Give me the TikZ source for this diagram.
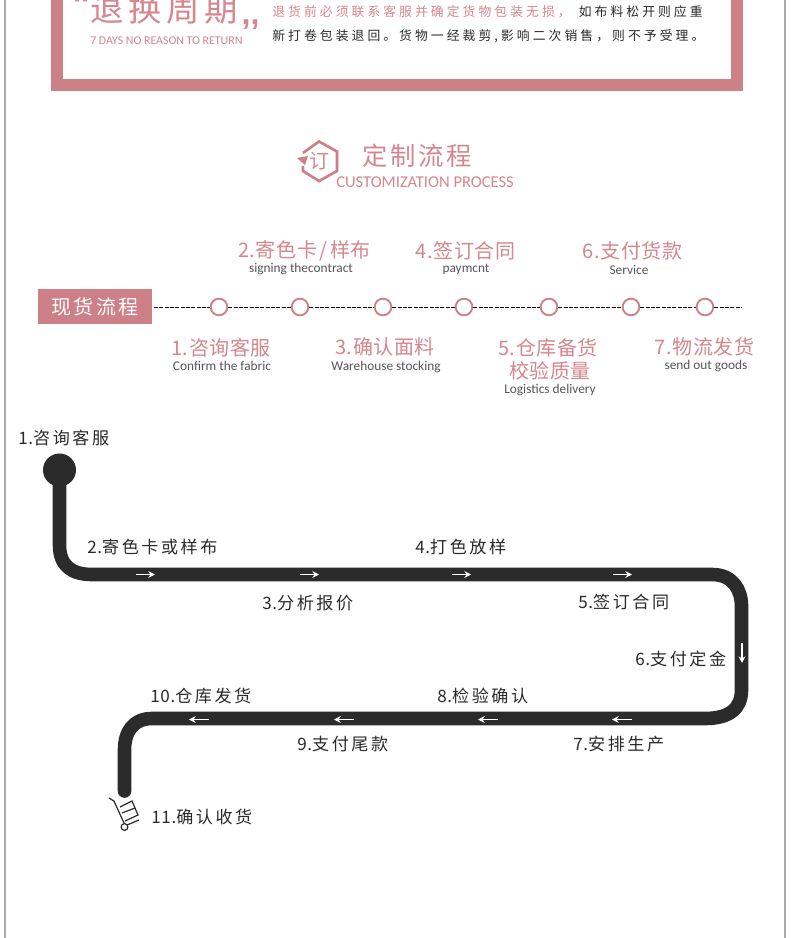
\documentclass[tikz,border=0pt]{standalone}
\usepackage{fontspec}
\setmainfont{Noto Sans CJK SC}
\newfontfamily\latinf{Carlito}
\newfontfamily\commaf{Liberation Sans}
\usetikzlibrary{arrows.meta}
\definecolor{rosec}{HTML}{CE8087}
\definecolor{rosetxt}{HTML}{D5868E}
\definecolor{roadc}{HTML}{2B2B2B}
\definecolor{greytxt}{HTML}{555555}
\definecolor{blacktxt}{HTML}{2A2A2A}
\definecolor{edgegrey}{HTML}{ABABAB}
\newcommand{\numpre}[1]{{\addfontfeature{LetterSpace=4}#1}}
\tikzset{
 x=0.75pt,y=-0.75pt,
 pinktitle/.style={inner sep=0,text=rosetxt,font=\fontsize{15}{18}\selectfont\addfontfeature{LetterSpace=3}},
 entext/.style={inner sep=0,text=greytxt,font=\latinf\fontsize{10}{12}\selectfont},
 blk/.style={inner sep=0,text=blacktxt,font=\fontsize{12.8}{15}\selectfont\addfontfeature{LetterSpace=15}},
 para/.style={inner sep=0,anchor=west,font=\fontsize{9.6}{12}\selectfont\addfontfeature{LetterSpace=24}},
 stepdot/.style={circle,draw=rosec,fill=white,line width=1.4pt,minimum size=12.5pt,inner sep=0},
 road/.style={draw=roadc,line width=10.2pt,line join=round},
 whitearrow/.style={draw=white,line width=1pt,-{Stealth[length=5pt,width=5pt]}},
 dashline/.style={dash pattern=on 3pt off 1pt,line width=0.7pt,black}
}
\begin{document}
\begin{tikzpicture}
\useasboundingbox (0,0) rectangle (790,938);
\fill[white] (0,0) rectangle (790,938);
\fill[edgegrey] (3.5,0) rectangle (6,938);
\fill[edgegrey] (784,0) rectangle (786,938);
% top frame
\fill[rosec] (51,0) rectangle (743,91);
\fill[white] (63,0) rectangle (731,79);
\node[inner sep=0,anchor=west,text=rosetxt,font=\fontsize{25}{30}\selectfont\addfontfeature{LetterSpace=14}] (t1) at (90,9) {退换周期};
\node[inner sep=0,anchor=base,text=rosetxt,font=\commaf\bfseries\fontsize{24}{24}\selectfont] (q1) at (250.5,24.5) {,,};
\fill[rosetxt] (75,0) rectangle (79,1.5) (83,0) rectangle (87,1.5);
\node[inner sep=0,anchor=west,text=rosetxt,font=\latinf\fontsize{8.9}{10}\selectfont] (t2) at (90,41) {7 DAYS NO REASON TO RETURN};
\node[para] (p1) at (272,12) {\textcolor{rosetxt}{退货前必须联系客服并确定货物包装无损，}\hspace{6pt}\textcolor{blacktxt}{如布料松开则应重}};
\node[para,text=blacktxt] (p2) at (272,36) {新打卷包装退回。货物一经裁剪,影响二次销售，则不予受理。};
% header icon
\draw[rosec,line width=2pt] (303,153) -- (319,141.5) -- (337,151.5) -- (337,171) -- (319,181) -- (303,171) -- (303,166);
\fill[rosec] (297,158) -- (308,156) -- (305,165) -- cycle;
\node[inner sep=0,text=rosetxt,font=\fontsize{15}{18}\selectfont] (ic) at (319,161) {订};
\node[inner sep=0,anchor=west,text=rosetxt,font=\fontsize{19}{23}\selectfont\addfontfeature{LetterSpace=11}] (h1) at (362,156) {定制流程};
\node[inner sep=0,anchor=west,text=rosetxt,font=\latinf\fontsize{12.4}{14}\selectfont] (h2) at (336,182) {CUSTOMIZATION PROCESS};
% timeline
\node[fill=rosec,text=white,inner sep=0,minimum width=85.5pt,minimum height=26pt,font=\fontsize{15}{18}\selectfont\addfontfeature{LetterSpace=12}] (st) at (95,306.5) {现货流程};
\coordinate (linestart) at (154,307);
\coordinate (lineend) at (741,307);
\node[stepdot] (d1) at (219,307) {};
\node[stepdot] (d2) at (300,307) {};
\node[stepdot] (d3) at (383,307) {};
\node[stepdot] (d4) at (464,307) {};
\node[stepdot] (d5) at (549,307) {};
\node[stepdot] (d6) at (631,307) {};
\node[stepdot] (d7) at (705,307) {};
\foreach \a/\b in {linestart/d1,d1/d2,d2/d3,d3/d4,d4/d5,d5/d6,d6/d7,d7/lineend}
  \draw[dashline] (\a) -- (\b);
\node[pinktitle] (a2) at (304.5,251) {2.寄色卡\hspace{2pt}/\hspace{2pt}样布};
\node[entext] (b2) at (301,269) {signing thecontract};
\node[pinktitle] (a4) at (465.5,251) {4.签订合同};
\node[entext] (b4) at (466,269) {paymcnt};
\node[pinktitle] (a6) at (632.5,251) {6.支付货款};
\node[entext] (b6) at (629,270) {Service};
\node[pinktitle] (a1) at (221,348) {1.咨询客服};
\node[entext] (b1) at (222,366) {Confirm the fabric};
\node[pinktitle] (a3) at (385,347) {3.确认面料};
\node[entext] (b3) at (386,367) {Warehouse stocking};
\node[pinktitle] (a5) at (548,348) {5.仓库备货};
\node[pinktitle] (a5b) at (550,371) {校验质量};
\node[entext] (b5) at (550,390) {Logistics delivery};
\node[pinktitle] (a7) at (704.5,347) {7.物流发货};
\node[entext] (b7) at (706,366) {send out goods};
% road
\node[circle,fill=roadc,minimum size=24.75pt,inner sep=0] (start) at (59.5,470) {};
\coordinate (rend) at (124.5,791);
\draw[road,line cap=round] (start.center) -- (59.5,545) .. controls (59.5,566) and (72,574.5) .. (92,574.5) -- (712,574.5) .. controls (733,574.5) and (741.5,590) .. (741.5,606) -- (741.5,690) .. controls (741.5,708) and (730,718.5) .. (705,718.5) -- (152,718.5) .. controls (133,718.5) and (124.5,732) .. (124.5,750) -- (rend);
\foreach \x in {136,300,452,613} \draw[whitearrow] (\x,574.5) -- ++(19,0);
\draw[whitearrow] (742,643) -- ++(0,20);
\foreach \x in {632,498,354,209} \draw[whitearrow] (\x,719.5) -- ++(-20,0);
% trolley
\draw[roadc,line width=0.9pt] (109,798) -- (114,801) -- (124,823);
\draw[roadc,line width=0.9pt] (120,807) -- (132,801) -- (138,815) -- (125,821);
\draw[roadc,line width=0.9pt] (122,813) -- (135,808);
\draw[roadc,line width=0.9pt] (127,825) -- (139,820);
\draw[roadc,line width=0.9pt,fill=white] (124.5,827) circle (3.4);
% labels
\node[blk,anchor=west] (l1) at (18,438) {\numpre{1.}咨询客服};
\node[blk,anchor=west] (l2) at (87,547) {\numpre{2.}寄色卡或样布};
\node[blk,anchor=west] (l3) at (262,603) {\numpre{3.}分析报价};
\node[blk,anchor=west] (l4) at (415,547) {\numpre{4.}打色放样};
\node[blk,anchor=west] (l5) at (578,602) {\numpre{5.}签订合同};
\node[blk,anchor=west] (l6) at (635,659) {\numpre{6.}支付定金};
\node[blk,anchor=west] (l7) at (573,744) {\numpre{7.}安排生产};
\node[blk,anchor=west] (l8) at (437,696) {\numpre{8.}检验确认};
\node[blk,anchor=west] (l9) at (297,744) {\numpre{9.}支付尾款};
\node[blk,anchor=west] (l10) at (150,696) {\numpre{10.}仓库发货};
\node[blk,anchor=west] (l11) at (151,817) {\numpre{11.}确认收货};
\end{tikzpicture}
\end{document}
